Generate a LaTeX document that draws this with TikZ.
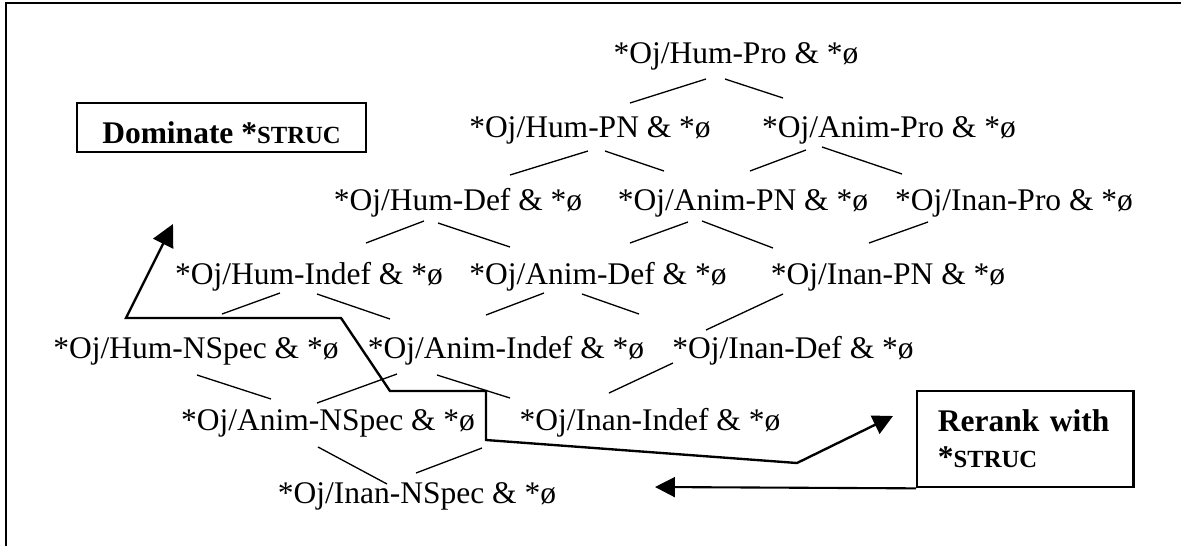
\documentclass[tikz,border=0pt]{standalone}
\usepackage{fontspec}
\setmainfont{Liberation Serif}
\usetikzlibrary{arrows.meta,calc}

\begin{document}
\begin{tikzpicture}[x=0.381pt, y=-0.381pt,
    cand/.style={anchor=base, inner sep=0pt, font=\fontsize{12}{14}\selectfont},
    branch/.style={line width=0.5pt},
    rulebox/.style={draw, line width=0.8pt, inner sep=0pt, font=\fontsize{12}{13.7}\selectfont\bfseries},
    cut/.style={line width=0.9pt, {Triangle[length=8.4pt,width=8.4pt]}-{Triangle[length=7.6pt,width=7.6pt]}}]
    \useasboundingbox (0,0) rectangle (1181,546);
    \draw[line width=1.1pt] (6,546) -- (6,3) -- (1181,3);

    \node[cand] (hpro) at (736,63) {*Oj/Hum-Pro \& *ø};
    \node[cand] (hpn) at (590,137) {*Oj/Hum-PN \& *ø};
    \node[cand] (apro) at (889,137) {*Oj/Anim-Pro \& *ø};
    \node[cand] (hdef) at (458,210) {*Oj/Hum-Def \& *ø};
    \node[cand] (apn) at (743,210) {*Oj/Anim-PN \& *ø};
    \node[cand] (ipro) at (1014,210) {*Oj/Inan-Pro \& *ø};
    \node[cand] (hindef) at (309,284) {*Oj/Hum-Indef \& *ø};
    \node[cand] (adef) at (598,284) {*Oj/Anim-Def \& *ø};
    \node[cand] (ipn) at (888,284) {*Oj/Inan-PN \& *ø};
    \node[cand] (hnspec) at (196,358) {*Oj/Hum-NSpec \& *ø};
    \node[cand] (aindef) at (506,358) {*Oj/Anim-Indef \& *ø};
    \node[cand] (idef) at (793,358) {*Oj/Inan-Def \& *ø};
    \node[cand] (anspec) at (328,430) {*Oj/Anim-NSpec \& *ø};
    \node[cand] (iindef) at (650,430) {*Oj/Inan-Indef \& *ø};
    \node[cand] (inspec) at (417,503) {*Oj/Inan-NSpec \& *ø};

    \draw[branch] ($(hpro.base)+(-30,16)$) -- ($(hpn.base)+(40,-34)$);
    \draw[branch] ($(hpro.base)+(-11,16)$) -- ($(apro.base)+(-106,-39)$);
    \draw[branch] ($(hpn.base)+(-2,14)$) -- ($(hdef.base)+(52,-35)$);
    \draw[branch] ($(hpn.base)+(15,14)$) -- ($(apn.base)+(-79,-39)$);
    \draw[branch] ($(apro.base)+(-83,13)$) -- ($(apn.base)+(7,-39)$);
    \draw[branch] ($(apro.base)+(-67,10)$) -- ($(ipro.base)+(-112,-36)$);
    \draw[branch] ($(hdef.base)+(-34,11)$) -- ($(hindef.base)+(57,-41)$);
    \draw[branch] ($(hdef.base)+(-20,13)$) -- ($(adef.base)+(-88,-37)$);
    \draw[branch] ($(apn.base)+(-55,12)$) -- ($(adef.base)+(32,-41)$);
    \draw[branch] ($(apn.base)+(-41,11)$) -- ($(ipn.base)+(-115,-36)$);
    \draw[branch] ($(ipro.base)+(-86,12)$) -- ($(ipn.base)+(-19,-41)$);
    \draw[branch] ($(hindef.base)+(-29,9)$) -- ($(hnspec.base)+(26,-44)$);
    \draw[branch] ($(hindef.base)+(8,10)$) -- ($(aindef.base)+(-116,-39)$);
    \draw[branch] ($(adef.base)+(-54,9)$) -- ($(aindef.base)+(-20,-43)$);
    \draw[branch] ($(adef.base)+(-16,10)$) -- ($(idef.base)+(-154,-44)$);
    \draw[branch] ($(ipn.base)+(-105,10)$) -- ($(idef.base)+(-87,-28)$);
    \draw[branch] ($(hnspec.base)+(1,17)$) -- ($(anspec.base)+(-57,-31)$);
    \draw[branch] ($(aindef.base)+(-109,16)$) -- ($(anspec.base)+(-11,-27)$);
    \draw[branch] ($(aindef.base)+(-69,17)$) -- ($(iindef.base)+(-140,-32)$);
    \draw[branch] ($(idef.base)+(-120,5)$) -- ($(iindef.base)+(-41,-37)$);
    \draw[branch] ($(anspec.base)+(-10,17)$) -- ($(inspec.base)+(-30,-19)$);
    \draw[branch] ($(iindef.base)+(-168,18)$) -- ($(inspec.base)+(-1,-30)$);

    \node[rulebox, minimum width=110.1pt, minimum height=18.7pt, text height=14.4pt, text depth=2.4pt] (dom) at (221.5,127.5) {Dominate *{\fontsize{9.4}{11}\selectfont STRUC}};
    \node[rulebox, minimum width=82.4pt, minimum height=36.8pt, text width=66.7pt, align=left] (rerank) at (1025.4,439) {Rerank with\\{}*{\fontsize{9.4}{11}\selectfont STRUC}};

    \coordinate (domtip) at (173,224);
    \coordinate (rertip) at (893,416);
    \draw[cut] (domtip) -- (126,318) -- (341,318) -- (390,391) -- (486,391) -- (486,440) -- (797,463) -- (rertip);

    \coordinate (backtip) at (655,487);
    \draw[line width=0.8pt, -{Triangle[length=7.6pt,width=7.6pt]}] (rerank.south west) -- (backtip);
\end{tikzpicture}
\end{document}
